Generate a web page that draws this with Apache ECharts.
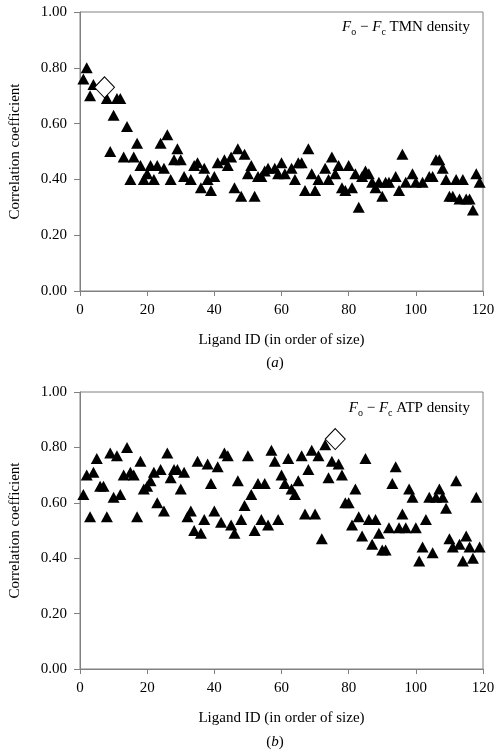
<!DOCTYPE html>
<html>
<head>
<meta charset="utf-8">
<script src="https://cdn.jsdelivr.net/npm/echarts@6/dist/echarts.min.js"></script>
<style>html,body{margin:0;padding:0;background:#fff;}#c{width:498px;height:750px;}</style>
</head>
<body>
<div id="c"></div>
<script>
// Panel (a): Fo - Fc TMN density
var tmnId  = [1,2,3,4,8,9,10,11,12,13,14,15,16,17,18,19,20,21,22,23,24,25,26,27,28,29,30,31,33,34,35,36,37,38,39,40,41,43,44,45,46,47,48,49,50,51,52,53,54,55,56,58,59,60,61,63,64,65,66,67,68,69,70,71,73,74,75,76,77,78,79,80,81,82,83,84,85,86,87,88,89,90,91,92,94,95,96,97,99,100,102,104,105,106,107,108,109,110,111,112,113,114,115,116,117,118,119];
var tmnVal = [0.76,0.80,0.70,0.74,0.69,0.50,0.63,0.69,0.69,0.48,0.59,0.40,0.48,0.53,0.45,0.40,0.42,0.45,0.40,0.45,0.53,0.44,0.56,0.40,0.47,0.51,0.47,0.41,0.40,0.45,0.46,0.37,0.44,0.40,0.36,0.41,0.46,0.47,0.45,0.48,0.37,0.51,0.34,0.49,0.42,0.45,0.34,0.41,0.41,0.43,0.44,0.44,0.42,0.46,0.42,0.44,0.40,0.46,0.46,0.36,0.51,0.42,0.36,0.40,0.44,0.40,0.48,0.42,0.45,0.37,0.36,0.45,0.37,0.42,0.30,0.41,0.43,0.42,0.39,0.37,0.39,0.34,0.39,0.39,0.41,0.36,0.49,0.39,0.42,0.39,0.39,0.41,0.41,0.47,0.47,0.44,0.40,0.34,0.34,0.40,0.33,0.40,0.33,0.33,0.29,0.42,0.39];
var tmnHighlight = [7.3, 0.73];

// Panel (b): Fo - Fc ATP density
var atpId  = [1,2,3,4,5,6,7,8,9,10,11,12,13,14,15,16,17,18,19,20,21,22,23,24,25,26,27,28,29,30,31,32,33,34,35,36,37,38,39,40,41,42,43,44,45,46,47,48,49,50,51,52,53,54,55,56,57,58,59,60,61,62,63,64,65,66,67,68,69,70,71,72,73,74,75,77,78,79,80,81,82,83,84,85,86,87,88,89,90,91,92,93,94,95,96,97,98,99,100,101,102,103,104,105,106,107,108,109,110,111,112,113,114,115,116,117,118,119];
var atpVal = [0.63,0.70,0.55,0.71,0.76,0.66,0.66,0.55,0.78,0.62,0.77,0.63,0.70,0.80,0.71,0.70,0.55,0.75,0.65,0.66,0.68,0.71,0.60,0.72,0.57,0.78,0.69,0.72,0.72,0.65,0.71,0.55,0.57,0.50,0.75,0.49,0.54,0.74,0.67,0.57,0.73,0.53,0.78,0.77,0.52,0.49,0.68,0.54,0.59,0.77,0.63,0.50,0.67,0.54,0.67,0.52,0.79,0.75,0.54,0.70,0.67,0.76,0.65,0.63,0.68,0.77,0.56,0.72,0.79,0.56,0.77,0.47,0.81,0.69,0.75,0.74,0.70,0.60,0.60,0.52,0.65,0.55,0.48,0.76,0.54,0.45,0.54,0.49,0.43,0.43,0.51,0.67,0.73,0.51,0.56,0.51,0.65,0.62,0.51,0.39,0.44,0.54,0.62,0.42,0.62,0.65,0.62,0.58,0.47,0.44,0.68,0.45,0.39,0.48,0.44,0.40,0.62,0.44];
var atpHighlight = [76, 0.83];

var xTicks = [0, 20, 40, 60, 80, 100, 120];
var yTicks = [0, 0.2, 0.4, 0.6, 0.8, 1.0];

function zip(a, b) { return a.map(function (v, i) { return [v, b[i]]; }); }

var FONT = 'Liberation Serif';
var AX = '#808080';

function xAx(gi) {
  return {
    gridIndex: gi, type: 'value', min: xTicks[0], max: xTicks[xTicks.length - 1], interval: 20,
    name: 'Ligand ID (in order of size)', nameLocation: 'middle', nameGap: 42,
    nameTextStyle: { fontFamily: FONT, fontSize: 15, color: '#000' },
    axisLine: { show: true, onZero: false, lineStyle: { color: AX, width: 1 } },
    axisTick: { show: true, inside: false, length: 5, lineStyle: { color: AX } },
    axisLabel: { fontFamily: FONT, fontSize: 15, color: '#000', margin: 12 },
    splitLine: { show: false }
  };
}
function yAx(gi) {
  return {
    gridIndex: gi, type: 'value', min: yTicks[0], max: yTicks[yTicks.length - 1], interval: 0.2,
    name: 'Correlation coefficient', nameLocation: 'middle', nameGap: 57, nameRotate: 90,
    nameTextStyle: { fontFamily: FONT, fontSize: 15, color: '#000' },
    axisLine: { show: true, lineStyle: { color: AX, width: 1 } },
    axisTick: { show: true, inside: false, length: 6, lineStyle: { color: AX } },
    axisLabel: { fontFamily: FONT, fontSize: 15, color: '#000', margin: 13,
      formatter: function (v) { return v.toFixed(2); } },
    splitLine: { show: false }
  };
}
function tri(xi, data) {
  return { type: 'scatter', xAxisIndex: xi, yAxisIndex: xi, data: data,
    symbol: 'triangle', symbolSize: [12, 11], itemStyle: { color: '#000', opacity: 1 }, z: 3 };
}
function dia(xi, pt) {
  return { type: 'scatter', xAxisIndex: xi, yAxisIndex: xi, data: [pt],
    symbol: 'diamond', symbolSize: [20, 21],
    itemStyle: { color: '#fff', borderColor: '#000', borderWidth: 1, opacity: 1 }, z: 4 };
}
var rich = {
  i: { fontFamily: FONT, fontSize: 15, fontStyle: 'italic', color: '#000', lineHeight: 20, verticalAlign: 'middle' },
  s: { fontFamily: FONT, fontSize: 10, color: '#000', lineHeight: 10, verticalAlign: 'bottom' },
  n: { fontFamily: FONT, fontSize: 15, color: '#000', lineHeight: 20, verticalAlign: 'middle' }
};

var chart = echarts.init(document.getElementById('c'), null, { renderer: 'canvas' });
chart.setOption({
  animation: false,
  backgroundColor: '#fff',
  grid: [
    { left: 67, right: 15, top: 12, height: 279, show: true, borderColor: AX, borderWidth: 1, backgroundColor: 'transparent' },
    { left: 67, right: 15, top: 392, height: 277, show: true, borderColor: AX, borderWidth: 1, backgroundColor: 'transparent' }
  ],
  xAxis: [xAx(0), xAx(1)],
  yAxis: [yAx(0), yAx(1)],
  series: [
    tri(0, zip(tmnId, tmnVal)), dia(0, tmnHighlight),
    tri(1, zip(atpId, atpVal)), dia(1, atpHighlight)
  ],
  graphic: [
    { type: 'text', x: 470, y: 27, style: { text: '{i|F}{s|o}{n| \u2212 }{i|F}{s|c}{n| TMN density}', rich: rich, align: 'right', verticalAlign: 'middle' } },
    { type: 'text', x: 470, y: 408, style: { text: '{i|F}{s|o}{n| \u2212 }{i|F}{s|c}{n| ATP density}', rich: rich, align: 'right', verticalAlign: 'middle' } },
    { type: 'text', x: 275, y: 363, style: { text: '{n|(}{i|a}{n|)}', rich: rich, align: 'center', verticalAlign: 'middle' } },
    { type: 'text', x: 275, y: 742, style: { text: '{n|(}{i|b}{n|)}', rich: rich, align: 'center', verticalAlign: 'middle' } }
  ]
});
</script>
</body>
</html>
